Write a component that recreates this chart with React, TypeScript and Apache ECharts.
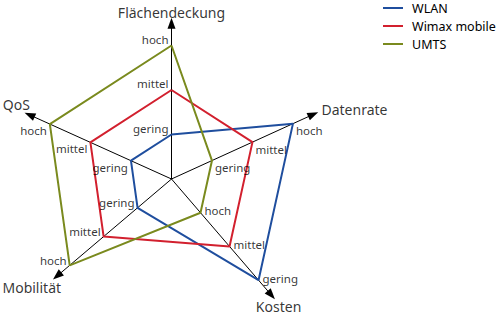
import React, { useEffect, useRef } from "react";
import * as echarts from "echarts";

// Axes (clockwise angle from top, degrees)
const axisNames = ["Flächendeckung", "Datenrate", "Kosten", "Mobilität", "QoS"];
const axisAngles = [0, 65.5, 139.3, 229.7, 294.3];
const axisReversed = [false, false, true, false, false];
const levelLabels = ["gering", "mittel", "hoch"];

// values: 1 = gering, 2 = mittel, 3 = hoch
const seriesNames = ["WLAN", "Wimax mobile", "UMTS"];
const wlan = [1, 3, 1, 1, 1];
const wimax = [2, 2, 2, 2, 2];
const umts = [3, 1, 3, 3, 3];
const seriesColors = ["#1f4e9e", "#d2202e", "#7a8a1e"];

const AXIS_MAX = 3.63;
const arrowPos = [3.5, 3.5, 3.44, 3.37, 3.5];

// label placement styles per axis
const levelLabelStyle = [
  { position: "left", distance: 3, offset: [0, -6.5] },
  { position: "right", distance: 3, offset: [0, 7] },
  { position: "right", distance: 4, offset: [0, -2] },
  { position: "left", distance: 3, offset: [0, -5] },
  { position: "left", distance: 3, offset: [0, 6.5] },
];
const nameLabelStyle = [
  { position: "top", distance: 0, offset: [0, 2] },
  { position: "right", distance: 3, offset: [0, -3] },
  { position: "bottom", distance: 0, offset: [3.5, 0] },
  { position: "bottom", distance: 0, offset: [-21, 1] },
  { position: "top", distance: 1, offset: [-8, 0] },
];

const pos = (axisIdx: number, v: number) => (axisReversed[axisIdx] ? 4 - v : v);

export default function App() {
  const ref = useRef<HTMLDivElement>(null);
  useEffect(() => {
    if (!ref.current) return;
    const chart = echarts.init(ref.current, undefined, { renderer: "svg" });
    const font = "'Noto Sans', 'DejaVu Sans', sans-serif";

    const axisSeries = axisAngles.map((a, i) => ({
      type: "line",
      coordinateSystem: "polar",
      silent: true,
      z: 1,
      lineStyle: { color: "#000", width: 1 },
      itemStyle: { color: "#000" },
      showSymbol: true,
      data: [
        { value: [0, a], symbol: "none" },
        { value: [arrowPos[i], a], symbol: "triangle", symbolSize: [8, 11], symbolRotate: -a },
      ],
    }));

    const dataSets = [wlan, wimax, umts];
    const dataSeries = dataSets.map((vals, si) => ({
      name: seriesNames[si],
      type: "line",
      coordinateSystem: "polar",
      z: 3,
      symbol: "none",
      color: seriesColors[si],
      lineStyle: { color: seriesColors[si], width: 2 },
      data: [...vals, vals[0]].map((v, k) => {
        const idx = k % axisAngles.length;
        return [pos(idx, v), axisAngles[idx]];
      }),
    }));

    const levelData: any[] = [];
    axisAngles.forEach((a, i) => {
      levelLabels.forEach((txt, l) => {
        const st = levelLabelStyle[i];
        levelData.push({
          value: [pos(i, l + 1), a],
          name: txt,
          label: { position: st.position, distance: st.distance, offset: st.offset },
        });
      });
    });

    const nameData = axisNames.map((n, i) => ({
      value: [arrowPos[i] + 0.13, axisAngles[i]],
      name: n,
      label: {
        position: nameLabelStyle[i].position,
        distance: nameLabelStyle[i].distance,
        offset: nameLabelStyle[i].offset,
      },
    }));

    chart.setOption({
      animation: false,
      polar: { center: [171.5, 179], radius: 161.5 },
      angleAxis: {
        type: "value",
        min: 0,
        max: 360,
        startAngle: 90,
        clockwise: true,
        show: false,
      },
      radiusAxis: { type: "value", min: 0, max: AXIS_MAX, show: false },
      legend: {
        data: seriesNames,
        orient: "vertical",
        left: 383,
        top: 0,
        padding: 0,
        icon: "rect",
        itemWidth: 20,
        itemHeight: 2,
        itemGap: 2,
        textStyle: {
          fontFamily: font,
          fontSize: 12.5,
          color: "#000",
          lineHeight: 16,
          padding: [0, 0, 0, 4],
        },
      },
      series: [
        ...axisSeries,
        ...dataSeries,
        {
          type: "scatter",
          coordinateSystem: "polar",
          z: 5,
          silent: true,
          symbolSize: 0,
          data: levelData,
          label: {
            show: true,
            formatter: "{b}",
            fontFamily: font,
            fontSize: 11.5,
            color: "#000",
          },
        },
        {
          type: "scatter",
          coordinateSystem: "polar",
          z: 5,
          silent: true,
          symbolSize: 0,
          data: nameData,
          label: {
            show: true,
            formatter: "{b}",
            fontFamily: font,
            fontSize: 14,
            color: "#000",
          },
        },
      ],
    });
    return () => chart.dispose();
  }, []);
  return (
    <div
      ref={ref}
      style={{ position: "absolute", left: 0, top: 0, width: 500, height: 320 }}
    />
  );
}
